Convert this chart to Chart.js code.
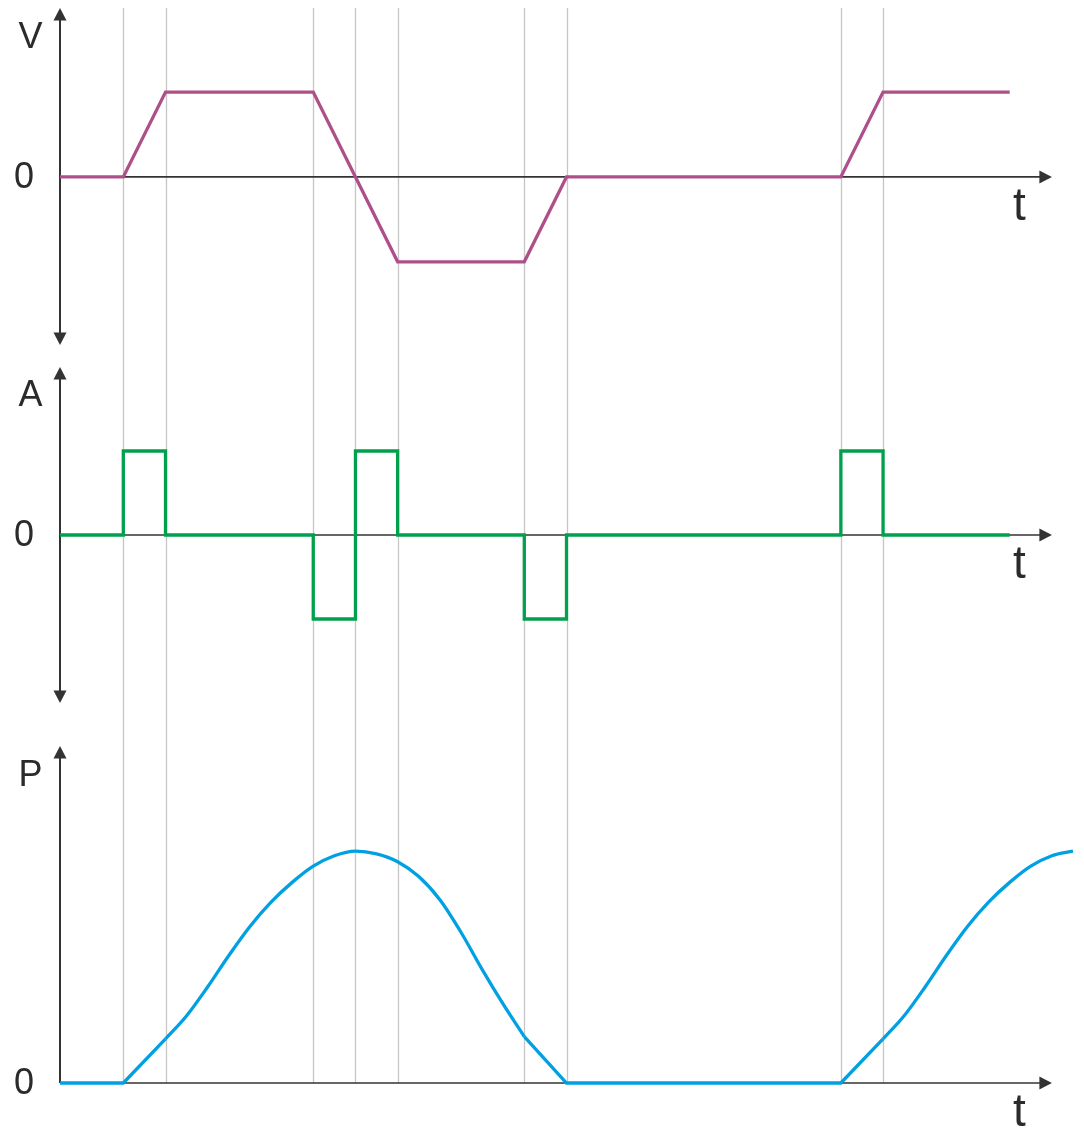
<!DOCTYPE html>
<html>
<head>
<meta charset="utf-8">
<script src="https://cdn.jsdelivr.net/npm/chart.js@4/dist/chart.umd.min.js"></script>
<style>
  html, body { margin: 0; padding: 0; background: #ffffff; }
  #wrap { position: relative; width: 1084px; height: 1129px; overflow: hidden; }
  .panel { position: absolute; left: 0; width: 1084px; }
  canvas { display: block; }
</style>
</head>
<body>
<div id="wrap">
  <div class="panel" style="top:0px;height:356px"><canvas id="cV" width="1084" height="356"></canvas></div>
  <div class="panel" style="top:356px;height:368px"><canvas id="cA" width="1084" height="368"></canvas></div>
  <div class="panel" style="top:724px;height:405px"><canvas id="cP" width="1084" height="405"></canvas></div>
</div>
<script>
// ---- data ----
const eventTimes = [1.5, 2.5, 6, 7, 8, 11, 12, 18.5, 19.5];

const velocityTime  = [0, 1.5, 2.5, 6, 7, 8, 11, 12, 18.5, 19.5, 22.5];
const velocityValue = [0, 0,   1,   1, 0, -1, -1, 0,  0,    1,    1];

const accelTime  = [0, 1.5, 1.5, 2.5, 2.5, 6, 6,  7,  7, 8, 8, 11, 11, 12, 12, 18.5, 18.5, 19.5, 19.5, 22.5];
const accelValue = [0, 0,   1,   1,   0,   0, -1, -1, 1, 1, 0, 0,  -1, -1, 0,  0,    1,    1,    0,    0];

const posRampTime  = [0, 1.5, 2.5, 6,    11, 12, 18.5, 19.5];
const posRampValue = [0, 0,   19,  null, 20, 0,  0,    19];

const posCurveTime  = [2.5, 3, 3.5, 4, 4.5, 5, 5.5, 6, 6.5, 7,
                       7.5, 8, 8.5, 9, 9.5, 10, 10.5, 11,
                       15,
                       19.5, 20, 20.5, 21, 21.5, 22, 22.5, 23, 23.5, 24];
const posCurveValue = [19, 29, 41.5, 55, 67.5, 78, 86.5, 93.5, 98, 100,
                       98.8, 95.4, 89, 79, 65, 49, 34, 20,
                       null,
                       19, 29, 41.5, 55, 67.5, 78, 86.5, 93.5, 98, 100];

const axisLabels = ['V', 'A', 'P'];
const zeroLabel = '0';
const timeLabel = 't';

// ---- helpers ----
const X_MIN = 0, X_MAX = 24, ARROW_T = 23.5;
const AXIS_COLOR = '#333333';
const GRID_COLOR = '#c6c6c6';
const FONT = '"Liberation Sans", Arial, Helvetica, sans-serif';

function zip(t, v) { return t.map((x, i) => ({ x: x, y: v[i] })); }

function arrowUp(ctx, x, yTip) {
  ctx.beginPath(); ctx.moveTo(x, yTip); ctx.lineTo(x - 6.5, yTip + 12.5); ctx.lineTo(x + 6.5, yTip + 12.5); ctx.closePath(); ctx.fill();
}
function arrowDown(ctx, x, yTip) {
  ctx.beginPath(); ctx.moveTo(x, yTip); ctx.lineTo(x - 6.5, yTip - 12.5); ctx.lineTo(x + 6.5, yTip - 12.5); ctx.closePath(); ctx.fill();
}
function arrowRight(ctx, xTip, y) {
  ctx.beginPath(); ctx.moveTo(xTip, y); ctx.lineTo(xTip - 12.5, y - 6.5); ctx.lineTo(xTip - 12.5, y + 6.5); ctx.closePath(); ctx.fill();
}

function decorPlugin(opts) {
  return {
    id: 'decor',
    beforeDatasetsDraw(chart) {
      const ctx = chart.ctx;
      const xs = chart.scales.x, ys = chart.scales.y;
      const area = chart.chartArea;
      const y0 = ys.getPixelForValue(0);
      const x0 = xs.getPixelForValue(0);
      ctx.save();
      // vertical event lines
      ctx.strokeStyle = GRID_COLOR; ctx.lineWidth = 1.3;
      const gTop = opts.gridFromTop ? 0 : area.top;
      const gBot = opts.gridToZero ? y0 : chart.height;
      eventTimes.forEach(t => {
        const px = Math.round(xs.getPixelForValue(t)) + 0.5;
        ctx.beginPath(); ctx.moveTo(px, gTop); ctx.lineTo(px, gBot); ctx.stroke();
      });
      // horizontal axis
      ctx.strokeStyle = AXIS_COLOR; ctx.fillStyle = AXIS_COLOR;
      ctx.lineWidth = 1.6;
      const xTip = xs.getPixelForValue(ARROW_T);
      ctx.beginPath(); ctx.moveTo(x0, y0); ctx.lineTo(xTip - 8, y0); ctx.stroke();
      arrowRight(ctx, xTip, y0);
      // vertical axis
      ctx.lineWidth = 2;
      const yBot = opts.downArrow ? area.bottom : y0;
      ctx.beginPath(); ctx.moveTo(x0, area.top + 8); ctx.lineTo(x0, opts.downArrow ? yBot - 8 : yBot); ctx.stroke();
      arrowUp(ctx, x0, area.top);
      if (opts.downArrow) arrowDown(ctx, x0, area.bottom);
      // labels
      ctx.fillStyle = '#2b2b2b';
      ctx.textAlign = 'center'; ctx.textBaseline = 'middle';
      ctx.font = '36px ' + FONT;
      ctx.fillText(opts.label, 30.5, opts.labelY);
      ctx.fillText(zeroLabel, 24, y0 + 1);
      ctx.font = '46px ' + FONT;
      ctx.fillText(timeLabel, 1019.5, y0 + 30);
      ctx.restore();
    }
  };
}

function makeChart(id, datasets, yMin, yMax, padTop, padBottom, opts) {
  return new Chart(document.getElementById(id), {
    type: 'line',
    data: { datasets: datasets },
    options: {
      responsive: false,
      animation: false,
      devicePixelRatio: 1,
      layout: { padding: { left: 60, right: 11, top: padTop, bottom: padBottom } },
      plugins: { legend: { display: false }, tooltip: { enabled: false } },
      elements: { point: { radius: 0, hoverRadius: 0 } },
      scales: {
        x: { type: 'linear', min: X_MIN, max: X_MAX, display: false },
        y: { type: 'linear', min: yMin, max: yMax, display: false }
      }
    },
    plugins: [decorPlugin(opts)]
  });
}

const lineBase = { borderWidth: 3.3, pointRadius: 0, fill: false, clip: false, spanGaps: false, borderJoinStyle: 'miter', borderCapStyle: 'butt' };

makeChart('cV', [
  Object.assign({}, lineBase, { data: zip(velocityTime, velocityValue), borderColor: '#ae4f8a', tension: 0 })
], -1.98, 1.99, 8, 11, { label: axisLabels[0], labelY: 38, downArrow: true, gridFromTop: false, gridToZero: false });

makeChart('cA', [
  Object.assign({}, lineBase, { data: zip(accelTime, accelValue), borderColor: '#00a04c', tension: 0 })
], -2, 2, 11, 21, { label: axisLabels[1], labelY: 40, downArrow: true, gridFromTop: true, gridToZero: false });

makeChart('cP', [
  Object.assign({}, lineBase, { data: zip(posRampTime, posRampValue), borderColor: '#00a0e2', tension: 0 }),
  Object.assign({}, lineBase, { data: zip(posCurveTime, posCurveValue), borderColor: '#00a0e2', cubicInterpolationMode: 'monotone', borderJoinStyle: 'round' })
], 0, 145.3, 22, 46, { label: axisLabels[2], labelY: 52, downArrow: false, gridFromTop: true, gridToZero: true });
</script>
</body>
</html>
